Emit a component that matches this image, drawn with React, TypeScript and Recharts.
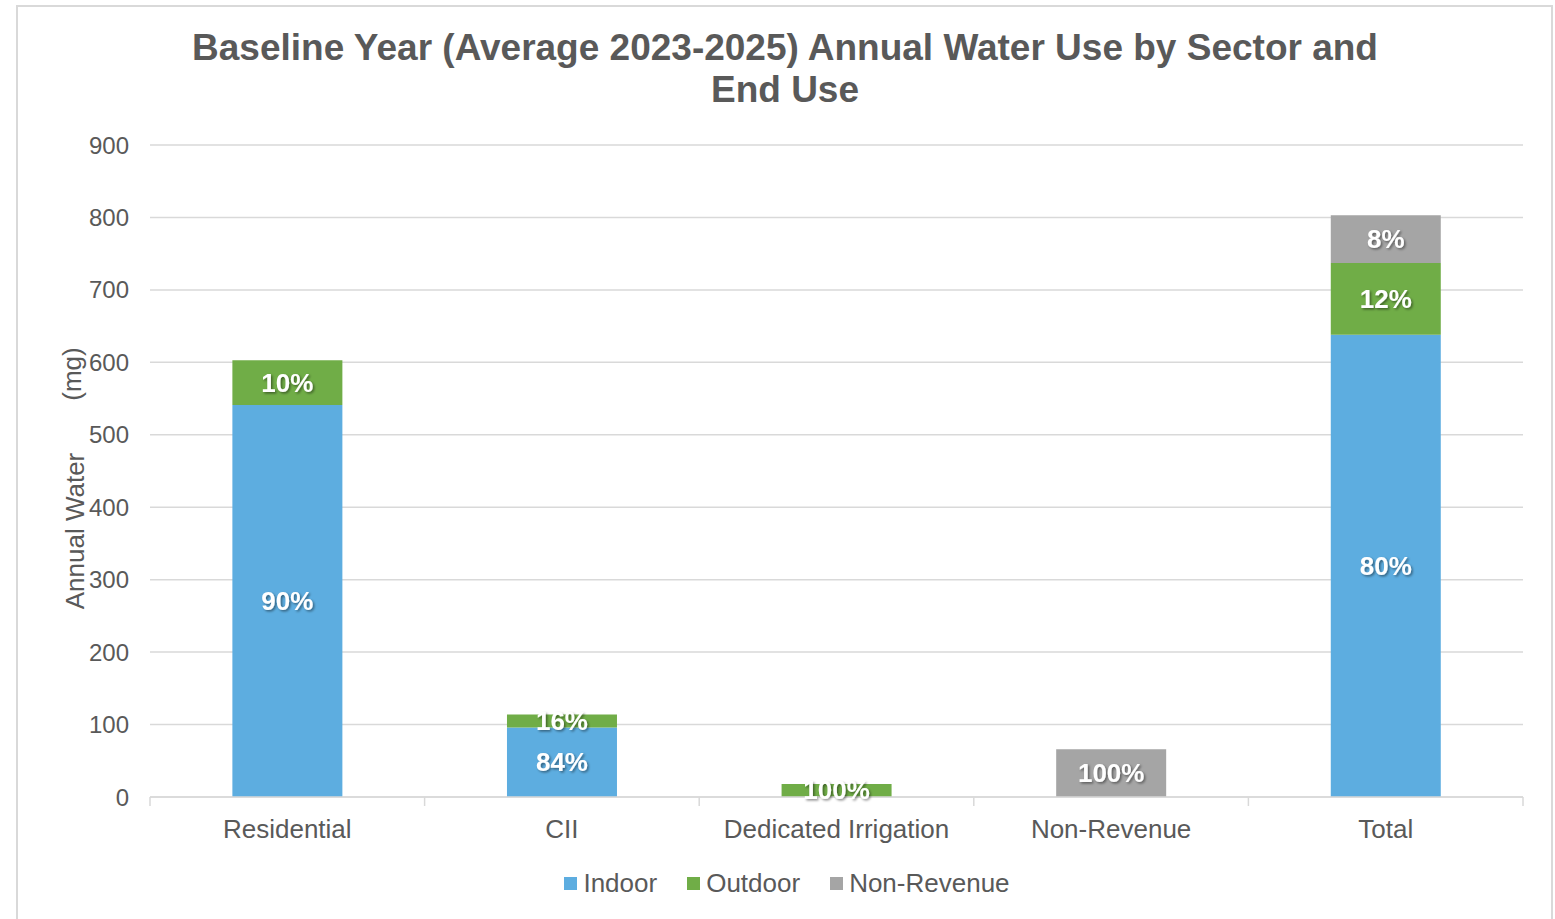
import { BarChart, Bar, XAxis, YAxis, CartesianGrid, Legend, LabelList } from "recharts";

const categories = ["Residential", "CII", "Dedicated Irrigation", "Non-Revenue", "Total"];
const indoor = [541, 96, 0, 0, 638];
const outdoor = [62, 18, 18, 0, 99];
const nonRevenue = [0, 0, 0, 66, 66];
const indoorPct = ["90%", "84%", "", "", "80%"];
const outdoorPct = ["10%", "16%", "100%", "", "12%"];
const nonRevenuePct = ["", "", "", "100%", "8%"];
const yTicks = [0, 100, 200, 300, 400, 500, 600, 700, 800, 900];

const FONT = '"Liberation Sans", Arial, sans-serif';
const TEXT = "#595959";
const GRID = "#d9d9d9";

const series = [
  { key: "indoor", name: "Indoor", color: "#5DADE0" },
  { key: "outdoor", name: "Outdoor", color: "#70AD47" },
  { key: "nonRevenue", name: "Non-Revenue", color: "#A5A5A5" },
];

const data = categories.map((name, i) => ({
  name,
  indoor: indoor[i],
  outdoor: outdoor[i],
  nonRevenue: nonRevenue[i],
  indoorPct: indoorPct[i],
  outdoorPct: outdoorPct[i],
  nonRevenuePct: nonRevenuePct[i],
}));

const PctLabel = (props: any) => {
  const { x, y, width, height, value } = props;
  if (!value) return null;
  return (
    <text
      x={Number(x) + Number(width) / 2}
      y={Number(y) + Number(height) / 2}
      textAnchor="middle"
      dominantBaseline="central"
      fill="#fff"
      fontFamily={FONT}
      fontWeight="bold"
      fontSize={26}
      filter="url(#lblShadow)"
    >
      {value}
    </text>
  );
};

const CategoryTick = (props: any) => {
  const { x, y, payload, index } = props;
  const half = payload?.offset ?? 0;
  const last = index === categories.length - 1;
  return (
    <g>
      <line x1={x - half} x2={x - half} y1={y} y2={y + 9} stroke={GRID} strokeWidth={1.5} />
      {last && <line x1={x + half} x2={x + half} y1={y} y2={y + 9} stroke={GRID} strokeWidth={1.5} />}
      <text x={x} y={y + 32} textAnchor="middle" dominantBaseline="central" fill={TEXT} fontFamily={FONT} fontSize={26}>
        {payload.value}
      </text>
    </g>
  );
};

const AxisTitle = () => (
  <g fill={TEXT} fontFamily={FONT} fontSize={26}>
    <text x={75} y={531} transform="rotate(-90 75 531)" textAnchor="middle" dominantBaseline="central">
      Annual Water
    </text>
    <text x={72} y={374} transform="rotate(-90 72 374)" textAnchor="middle" dominantBaseline="central">
      (mg)
    </text>
  </g>
);

// keep legend in series order (recharts sorts by name otherwise)
const LegendBox = (props: any) => {
  const items = [...(props.payload || [])].sort(
    (a: any, b: any) =>
      series.findIndex((s) => s.name === a.value) - series.findIndex((s) => s.name === b.value)
  );
  return (
    <div style={{ display: "flex", justifyContent: "center", alignItems: "center", height: 40, gap: 30 }}>
      {items.map((item: any) => (
        <div key={item.value} style={{ display: "flex", alignItems: "center", fontFamily: FONT, fontSize: 26, color: TEXT }}>
          <span style={{ width: 13, height: 13, background: item.color, marginRight: 6, display: "inline-block" }} />
          {item.value}
        </div>
      ))}
    </div>
  );
};

export default function App() {
  return (
    <div style={{ position: "absolute", left: 0, top: 0, width: 1555, height: 919, background: "#fff", overflow: "hidden" }}>
      <svg width={0} height={0} style={{ position: "absolute" }}>
        <defs>
          <filter id="lblShadow" x="-20%" y="-40%" width="140%" height="180%">
            <feDropShadow dx={1.5} dy={1.5} stdDeviation={1.2} floodColor="#000" floodOpacity={0.45} />
          </filter>
        </defs>
      </svg>
      <div
        style={{
          position: "absolute",
          left: 16,
          top: 5,
          width: 1537,
          height: 940,
          border: `2px solid ${GRID}`,
          boxSizing: "border-box",
        }}
      />
      <div
        style={{
          position: "absolute",
          left: 0,
          top: 27,
          width: 1570,
          textAlign: "center",
          fontFamily: FONT,
          fontWeight: "bold",
          fontSize: 37,
          lineHeight: "42px",
          color: TEXT,
        }}
      >
        Baseline Year (Average 2023-2025) Annual Water Use by Sector and
        <br />
        End Use
      </div>
      <div style={{ position: "absolute", left: 0, top: 0 }}>
        <BarChart
          width={1555}
          height={919}
          data={data}
          barCategoryGap="30%"
          margin={{ top: 145, right: 32, bottom: 16, left: 0 }}
        >
          <CartesianGrid vertical={false} stroke={GRID} strokeWidth={1.5} />
          <XAxis
            dataKey="name"
            height={66}
            tickSize={0}
            tickMargin={0}
            axisLine={{ stroke: GRID, strokeWidth: 1.5 }}
            tickLine={false}
            tick={<CategoryTick />}
            interval={0}
          />
          <YAxis
            width={150}
            domain={[0, 900]}
            ticks={yTicks}
            tickSize={0}
            tickMargin={21}
            axisLine={false}
            tickLine={false}
            tick={{ fill: TEXT, fontFamily: FONT, fontSize: 24 }}
            label={{ content: <AxisTitle /> }}
          />
          <Legend
            verticalAlign="bottom"
            content={<LegendBox />}
            wrapperStyle={{ left: 22, width: 1530, height: 40 }}
          />
          {series.map((s) => (
            <Bar key={s.key} dataKey={s.key} name={s.name} stackId="a" fill={s.color} isAnimationActive={false}>
              <LabelList dataKey={`${s.key}Pct`} content={<PctLabel />} />
            </Bar>
          ))}
        </BarChart>
      </div>
    </div>
  );
}
